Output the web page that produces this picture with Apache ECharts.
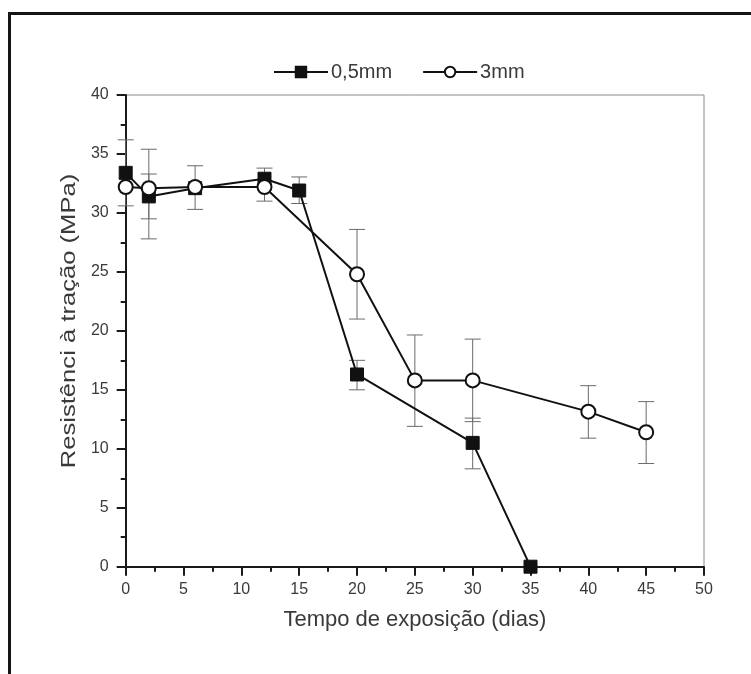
<!DOCTYPE html>
<html>
<head>
<meta charset="utf-8">
<script src="https://cdn.jsdelivr.net/npm/echarts@6/dist/echarts.min.js"></script>
<style>
html,body{margin:0;padding:0;background:#fff;}
#chart{width:751px;height:674px;}
</style>
</head>
<body>
<div id="chart"></div>
<script>
// ---- data ----
var seriesNames = ['0,5mm', '3mm'];
var days05 = [0, 2, 6, 12, 15, 20, 30, 35];
var val05 = [33.4, 31.4, 32.1, 32.9, 31.9, 16.3, 10.5, 0];
var errLow05 = [30.6, 29.5, null, 31.0, 30.8, 15.0, 8.3, null];
var errHigh05 = [36.2, 33.3, null, 33.8, 33.05, 17.5, 12.6, null];

var days3 = [0, 2, 6, 12, 20, 25, 30, 40, 45];
var val3 = [32.2, 32.1, 32.2, 32.2, 24.8, 15.8, 15.8, 13.15, 11.4];
var errLow3 = [null, 27.8, 30.3, null, 21.0, 11.9, 12.3, 10.9, 8.75];
var errHigh3 = [null, 35.4, 34.0, null, 28.6, 19.65, 19.3, 15.35, 14.0];

var xTicks = [0, 5, 10, 15, 20, 25, 30, 35, 40, 45, 50];
var yTicks = [0, 5, 10, 15, 20, 25, 30, 35, 40];
var xTitle = 'Tempo de exposição (dias)';
var yTitle = 'Resistênci à tração (MPa)';

// ---- build ----
function pairs(xs, ys) { return xs.map(function (x, i) { return [x, ys[i]]; }); }
function errData(xs, lo, hi) {
  var out = [];
  xs.forEach(function (x, i) { if (lo[i] != null) out.push([x, lo[i], hi[i]]); });
  return out;
}
function errRender(params, api) {
  var x = api.value(0);
  var lo = api.coord([x, api.value(1)]);
  var hi = api.coord([x, api.value(2)]);
  var hw = 8;
  var st = { stroke: '#6a6a6a', lineWidth: 1 };
  return {
    type: 'group',
    children: [
      { type: 'line', shape: { x1: lo[0], y1: lo[1], x2: hi[0], y2: hi[1] }, style: st },
      { type: 'line', shape: { x1: lo[0] - hw, y1: lo[1], x2: lo[0] + hw, y2: lo[1] }, style: st },
      { type: 'line', shape: { x1: hi[0] - hw, y1: hi[1], x2: hi[0] + hw, y2: hi[1] }, style: st }
    ]
  };
}

var font = 'Liberation Sans, Arial, sans-serif';
var txt = '#3a3a3a';

var chart = echarts.init(document.getElementById('chart'));
chart.setOption({
  backgroundColor: '#fff',
  animation: false,
  graphic: [
    { type: 'line', shape: { x1: 9.5, y1: 13, x2: 9.5, y2: 674 }, style: { stroke: '#151515', lineWidth: 3 } },
    { type: 'line', shape: { x1: 8, y1: 13.5, x2: 751, y2: 13.5 }, style: { stroke: '#151515', lineWidth: 3 } },
    {
      type: 'text', x: 69, y: 321, rotation: Math.PI / 2, scaleX: 1.28,
      style: { text: yTitle, font: '20px "Liberation Sans", Arial, sans-serif', fill: txt, textAlign: 'center', textVerticalAlign: 'middle' }
    }
  ],
  legend: {
    top: 57,
    left: 268,
    itemGap: 30,
    itemWidth: 54,
    itemHeight: 13,
    textStyle: { fontFamily: font, fontSize: 20, color: txt, padding: [0, 0, 0, -2] },
    data: seriesNames
  },
  grid: { left: 125.7, right: 47, top: 95, bottom: 107.3, show: true, borderColor: '#8a8a8a', borderWidth: 1, backgroundColor: 'transparent' },
  xAxis: {
    type: 'value', min: 0, max: 50, interval: 5,
    name: xTitle, nameLocation: 'middle', nameGap: 42,
    nameTextStyle: { fontFamily: font, fontSize: 22, color: txt },
    axisLine: { show: true, onZero: false, lineStyle: { color: '#1a1a1a', width: 2 } },
    axisTick: { show: true, length: 9, lineStyle: { color: '#1a1a1a', width: 2 } },
    minorTick: { show: true, splitNumber: 2, length: 5, lineStyle: { color: '#1a1a1a', width: 2 } },
    axisLabel: { fontFamily: font, fontSize: 16, color: txt, margin: 15,
      formatter: function (v) { return xTicks.indexOf(v) >= 0 ? String(v) : ''; } },
    splitLine: { show: false }
  },
  yAxis: {
    type: 'value', min: 0, max: 40, interval: 5,
    axisLine: { show: true, onZero: false, lineStyle: { color: '#1a1a1a', width: 2 } },
    axisTick: { show: true, length: 9, lineStyle: { color: '#1a1a1a', width: 2 } },
    minorTick: { show: true, splitNumber: 2, length: 5, lineStyle: { color: '#1a1a1a', width: 2 } },
    axisLabel: { fontFamily: font, fontSize: 16, color: txt, margin: 17,
      formatter: function (v) { return yTicks.indexOf(v) >= 0 ? String(v) : ''; } },
    splitLine: { show: false }
  },
  series: [
    { type: 'custom', name: 'err05', renderItem: errRender, data: errData(days05, errLow05, errHigh05), z: 1, silent: true },
    { type: 'custom', name: 'err3', renderItem: errRender, data: errData(days3, errLow3, errHigh3), z: 1, silent: true },
    {
      type: 'line', name: seriesNames[0], data: pairs(days05, val05), z: 3,
      symbol: 'rect', symbolSize: 13,
      lineStyle: { color: '#111', width: 2 },
      itemStyle: { color: '#111', borderColor: '#111', borderWidth: 1 }
    },
    {
      type: 'line', name: seriesNames[1], data: pairs(days3, val3), z: 4,
      symbol: 'circle', symbolSize: 14,
      lineStyle: { color: '#111', width: 2 },
      itemStyle: { color: '#fff', borderColor: '#111', borderWidth: 2 }
    }
  ]
});
</script>
</body>
</html>
